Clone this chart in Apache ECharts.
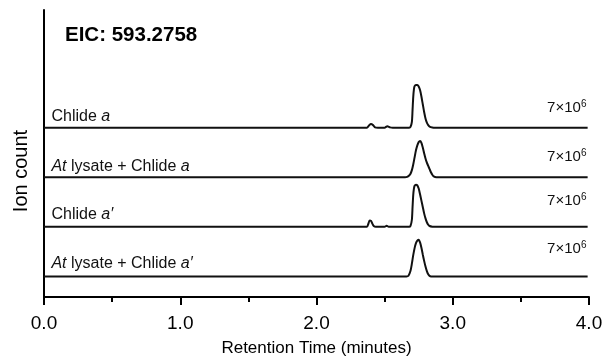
<!DOCTYPE html>
<html>
<head>
<meta charset="utf-8">
<script src="https://cdn.jsdelivr.net/npm/echarts@6/dist/echarts.min.js"></script>
<style>
html,body{margin:0;padding:0;background:#fff;}
#main{width:603px;height:358px;}
</style>
</head>
<body>
<div id="main"></div>
<script>
// Retention time (min) / intensity (×10^6) pairs
var chlideA = [
  [0,0],[2.37,0],[2.385,0.3],[2.40,0.5],[2.415,0.35],[2.43,0.05],[2.45,0],
  [2.50,0],[2.52,0.2],[2.54,0.04],[2.56,0],
  [2.68,0],[2.69,0.1],[2.70,0.8],[2.705,2.5],[2.71,4.3],[2.715,5.4],[2.72,5.85],[2.73,6.0],[2.74,6.0],
  [2.75,5.8],[2.76,5.3],[2.77,4.4],[2.78,3.3],[2.79,2.2],[2.80,1.3],[2.81,0.7],[2.82,0.35],[2.83,0.15],[2.85,0.03],[2.87,0],
  [3.99,0]
];
var lysateChlideA = [
  [0,0],[2.65,0],[2.665,0.05],[2.68,0.25],[2.69,0.5],[2.70,1.0],[2.71,1.8],[2.72,2.8],[2.73,3.8],[2.74,4.5],
  [2.75,4.95],[2.76,5.1],[2.77,4.85],[2.78,4.2],[2.79,3.4],[2.80,2.65],[2.81,2.05],[2.82,1.6],[2.83,1.15],
  [2.84,0.7],[2.85,0.35],[2.86,0.12],[2.88,0],[3.99,0]
];
var chlideAPrime = [
  [0,0],[2.37,0],[2.38,0.4],[2.39,0.9],[2.40,0.85],[2.41,0.45],[2.42,0.12],[2.435,0],
  [2.50,0],[2.515,0.15],[2.53,0],
  [2.68,0],[2.69,0.15],[2.70,1.0],[2.705,2.8],[2.71,4.5],[2.715,5.4],[2.72,5.8],[2.73,5.95],[2.74,5.85],
  [2.75,5.4],[2.76,4.6],[2.77,3.7],[2.78,2.8],[2.79,1.9],[2.80,1.2],[2.81,0.65],[2.82,0.3],[2.83,0.12],[2.85,0.02],[2.87,0],
  [3.99,0]
];
var lysateChlideAPrime = [
  [0,0],[2.66,0],[2.675,0.1],[2.69,0.8],[2.70,1.8],[2.71,3.0],[2.72,4.0],[2.73,4.7],[2.74,5.05],[2.75,5.18],
  [2.76,4.8],[2.77,4.05],[2.78,3.1],[2.79,2.2],[2.80,1.4],[2.81,0.75],[2.82,0.3],[2.83,0.08],[2.84,0],[3.99,0]
];

var traceNames = ['Chlide {i|a}', '{i|At} lysate + Chlide {i|a}', 'Chlide {i|a\u2032}', '{i|At} lysate + Chlide {i|a\u2032}'];
var scaleLabels = ['7\u00d710', '7\u00d710', '7\u00d710', '7\u00d710'];
var scaleExp = ['6', '6', '6', '6'];
var traces = [chlideA, lysateChlideA, chlideAPrime, lysateChlideAPrime];
var traceOffset = [21, 14, 7, 0];   // stacking step = 7×10^6

var xTicks = [0, 1, 2, 3, 4];
var titleText = 'EIC: 593.2758';
var xAxisName = 'Retention Time (minutes)';
var yAxisName = 'Ion count';

// label layout (relative heights above each baseline)
var nameLabelX = 0.051, nameLabelDy = [1.62, 1.55, 1.79, 1.79];
var scaleLabelX = 3.985, scaleLabelDy = [2.77, 2.86, 3.65, 3.87];

var FONT = '"Liberation Sans", Arial, Helvetica, sans-serif';

var series = traces.map(function (pts, k) {
  var off = traceOffset[k];
  return {
    type: 'line',
    data: pts.map(function (p) { return [p[0], p[1] + off]; }),
    showSymbol: false,
    symbol: 'none',
    smooth: 0.25,
    lineStyle: { color: '#111', width: 2 },
    silent: true,
    animation: false,
    markPoint: {
      symbol: 'circle',
      symbolSize: 1,
      itemStyle: { color: 'rgba(0,0,0,0)' },
      animation: false,
      silent: true,
      data: [
        {
          coord: [nameLabelX, off + nameLabelDy[k]],
          label: {
            show: true, position: 'right', distance: 0,
            formatter: traceNames[k],
            color: '#111', fontSize: 16, fontFamily: FONT,
            rich: { i: { fontStyle: 'italic', fontSize: 16, fontFamily: FONT, color: '#111' } }
          }
        },
        {
          coord: [scaleLabelX, off + scaleLabelDy[k]],
          label: {
            show: true, position: 'left', distance: 0,
            formatter: '{b|' + scaleLabels[k] + '}{s|' + scaleExp[k] + '}',
            rich: {
              b: { fontSize: 15, fontFamily: FONT, color: '#111' },
              s: { fontSize: 10, fontFamily: FONT, color: '#111', verticalAlign: 'top', padding: [0, 0, 8, 0] }
            }
          }
        }
      ]
    }
  };
});

var chart = echarts.init(document.getElementById('main'), null, { renderer: 'canvas' });
chart.setOption({
  animation: false,
  backgroundColor: '#fff',
  title: {
    text: titleText, left: 65, top: 25, padding: 0,
    textStyle: { fontSize: 20.5, fontWeight: 'bold', color: '#000', fontFamily: FONT }
  },
  grid: { left: 44, right: 14, top: 10, bottom: 61, containLabel: false, outerBoundsMode: 'none' },
  xAxis: {
    type: 'value', min: xTicks[0], max: xTicks[xTicks.length - 1], interval: 1,
    name: xAxisName, nameLocation: 'middle', nameGap: 43,
    nameTextStyle: { fontSize: 17, color: '#000', fontFamily: FONT },
    axisLine: { show: true, onZero: false, lineStyle: { color: '#000', width: 2 } },
    axisTick: { show: true, inside: false, length: 8, lineStyle: { color: '#000', width: 2 } },
    minorTick: { show: true, splitNumber: 2, length: 5, lineStyle: { color: '#000', width: 2 } },
    axisLabel: { fontSize: 19, color: '#000', margin: 17, fontFamily: FONT,
      formatter: function (v) { return v.toFixed(1); } },
    splitLine: { show: false }
  },
  yAxis: {
    type: 'value', min: -2.9, max: 37.6,
    axisLine: { show: true, lineStyle: { color: '#000', width: 2 } },
    axisTick: { show: false }, axisLabel: { show: false }, splitLine: { show: false }
  },
  graphic: [{
    type: 'text', x: 21, y: 171, rotation: Math.PI / 2,
    style: { text: yAxisName, fontSize: 20, fill: '#000', fontFamily: FONT, align: 'center', verticalAlign: 'middle' }
  }],
  series: series
});
</script>
</body>
</html>
